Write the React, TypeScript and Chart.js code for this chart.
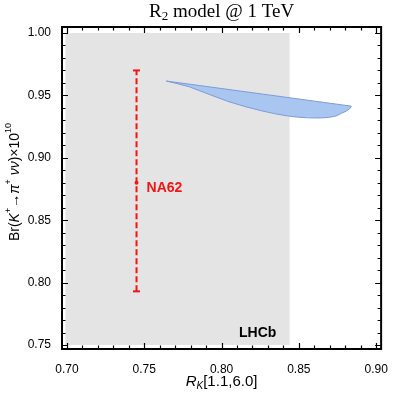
import React, { useEffect, useRef } from "react";
import { Chart, registerables } from "chart.js";

Chart.register(...registerables);

// ---- data ----
const titleText = "model @ 1 TeV";
const xTickValues = [0.7, 0.75, 0.8, 0.85, 0.9];
const yTickValues = [0.75, 0.8, 0.85, 0.9, 0.95, 1.0];
const xRange = [0.6968, 0.9032];
const yRange = [0.7468, 1.0048];

// LHCb band (R_K range, Br range)
const lhcbX = [0.699, 0.844];
const lhcbY = [0.75, 1.0];

// R2 model allowed region (closed outline)
const bandX = [0.7643, 0.7720, 0.7791, 0.7920, 0.8048, 0.8160, 0.826, 0.8350, 0.8434, 0.8500, 0.8563, 0.8630, 0.8691, 0.8740, 0.8775, 0.8808, 0.8833, 0.8839, 0.7643];
const bandY = [0.9615, 0.9592, 0.9569, 0.9508, 0.9449, 0.9408, 0.9376, 0.9352, 0.9334, 0.9325, 0.932, 0.9319, 0.9323, 0.9335, 0.9356, 0.9375, 0.9398, 0.9414, 0.9615];

// NA62 measurement
const na62X = 0.745;
const na62Central = 0.88;
const na62Low = 0.793;
const na62High = 0.97;

const RED = "rgb(238,22,22)";

const framePlugin = {
  id: "framePlugin",
  afterDraw(chart: any) {
    const { ctx, chartArea } = chart;
    const { left, right, top, bottom } = chartArea;
    const xs = chart.scales.x;
    const ys = chart.scales.y;
    ctx.save();
    // frame
    ctx.strokeStyle = "#000";
    ctx.lineWidth = 2;
    ctx.strokeRect(left, top, right - left, bottom - top);
    // ticks
    ctx.lineWidth = 1.2;
    ctx.beginPath();
    for (let i = 0; i <= 20; i++) {
      const v = 0.7 + i * 0.01;
      const major = i % 5 === 0;
      const len = major ? 6 : 3.5;
      const px = Math.round(xs.getPixelForValue(v)) + 0.5;
      ctx.moveTo(px, bottom);
      ctx.lineTo(px, bottom - len);
      ctx.moveTo(px, top);
      ctx.lineTo(px, top + len);
    }
    for (let i = 0; i <= 25; i++) {
      const v = 0.75 + i * 0.01;
      const major = i % 5 === 0;
      const len = major ? 6 : 3.5;
      const py = Math.round(ys.getPixelForValue(v)) + 0.5;
      ctx.moveTo(left, py);
      ctx.lineTo(left + len, py);
      ctx.moveTo(right, py);
      ctx.lineTo(right - len, py);
    }
    ctx.stroke();

    // labels
    ctx.fillStyle = RED;
    ctx.font = "bold 14px 'Liberation Sans', Arial, sans-serif";
    ctx.textBaseline = "middle";
    ctx.textAlign = "left";
    ctx.fillText("NA62", xs.getPixelForValue(na62X) + 10, ys.getPixelForValue(0.876));
    ctx.fillStyle = "#000";
    ctx.fillText("LHCb", xs.getPixelForValue(0.8113), ys.getPixelForValue(0.7595));

    // title
    const cx = (left + right) / 2;
    const big = "19px 'Liberation Serif', 'DejaVu Serif', serif";
    const small = "13px 'Liberation Serif', 'DejaVu Serif', serif";
    ctx.font = big;
    const wR = ctx.measureText("R").width;
    ctx.font = small;
    const w2 = ctx.measureText("2").width;
    ctx.font = big;
    const wT = ctx.measureText(" " + titleText).width;
    const total = wR + w2 + wT;
    let tx = cx - total / 2;
    const ty = 12;
    ctx.textBaseline = "middle";
    ctx.fillText("R", tx, ty);
    tx += wR;
    ctx.font = small;
    ctx.fillText("2", tx, ty + 5);
    tx += w2;
    ctx.font = big;
    ctx.fillText(" " + titleText, tx, ty);

    // x axis title: R_K[1.1,6.0]
    const segsX: [string, string, number][] = [
      ["R", "italic 15px 'Liberation Sans', Arial, sans-serif", 0],
      ["K", "italic 10px 'Liberation Sans', Arial, sans-serif", 4],
      ["[1.1,6.0]", "15px 'Liberation Sans', Arial, sans-serif", 0],
    ];
    drawSegs(ctx, segsX, cx, 382);

    // y axis title
    const segsY: [string, string, number][] = [
      ["Br(", "14px 'Liberation Sans', Arial, sans-serif", 0],
      ["K", "italic 14px 'Liberation Sans', Arial, sans-serif", 0],
      ["+", "9px 'Liberation Sans', Arial, sans-serif", -6],
      ["\u2192", "14px 'Liberation Sans', Arial, sans-serif", 0],
      ["\u03c0", "italic 14px 'Liberation Sans', Arial, sans-serif", 0],
      ["+", "9px 'Liberation Sans', Arial, sans-serif", -6],
      [" \u03bd\u03bd", "italic 14px 'Liberation Sans', Arial, sans-serif", 0],
      [")\u00d710", "14px 'Liberation Sans', Arial, sans-serif", 0],
      ["10", "9px 'Liberation Sans', Arial, sans-serif", -6],
    ];
    ctx.save();
    ctx.translate(15, (top + bottom) / 2 - 6);
    ctx.rotate(-Math.PI / 2);
    drawSegs(ctx, segsY, 0, 0);
    ctx.restore();

    ctx.restore();
  },
};

function drawSegs(ctx: any, segs: [string, string, number][], cx: number, cy: number) {
  let total = 0;
  for (const [t, f] of segs) {
    ctx.font = f;
    total += ctx.measureText(t).width;
  }
  let x = cx - total / 2;
  ctx.fillStyle = "#000";
  ctx.textAlign = "left";
  ctx.textBaseline = "middle";
  for (const [t, f, dy] of segs) {
    ctx.font = f;
    ctx.fillText(t, x, cy + dy);
    x += ctx.measureText(t).width;
  }
}

export default function App() {
  const ref = useRef<HTMLCanvasElement>(null);
  useEffect(() => {
    if (!ref.current) return;
    const tickFont = { family: "'Liberation Sans', Arial, sans-serif", size: 12 };
    const chart = new Chart(ref.current, {
      type: "line",
      data: {
        datasets: [
          {
            label: "LHCb",
            data: [
              { x: lhcbX[0], y: lhcbY[0] },
              { x: lhcbX[1], y: lhcbY[0] },
              { x: lhcbX[1], y: lhcbY[1] },
              { x: lhcbX[0], y: lhcbY[1] },
              { x: lhcbX[0], y: lhcbY[0] },
            ],
            borderWidth: 0,
            borderColor: "rgba(0,0,0,0)",
            backgroundColor: "#e4e4e4",
            fill: "shape",
            pointRadius: 0,
            order: 3,
            tension: 0,
          },
          {
            label: "R2",
            data: bandX.map((x, i) => ({ x, y: bandY[i] })),
            borderWidth: 1,
            borderColor: "rgb(125,155,215)",
            backgroundColor: "rgb(168,198,240)",
            fill: "shape",
            pointRadius: 0,
            order: 2,
            tension: 0,
          },
          {
            label: "NA62 bar",
            data: [
              { x: na62X, y: na62Low },
              { x: na62X, y: na62High },
            ],
            borderWidth: 2,
            borderColor: RED,
            borderDash: [6, 3],
            pointRadius: 0,
            fill: false,
            order: 1,
          },
          {
            label: "NA62 caps",
            data: [
              { x: na62X, y: na62Low },
              { x: na62X, y: na62High },
            ],
            showLine: false,
            pointStyle: "line",
            pointRadius: 3.5,
            pointBorderWidth: 2,
            pointBorderColor: RED,
            pointBackgroundColor: RED,
            fill: false,
            order: 0,
          },
          {
            label: "NA62 central",
            data: [{ x: na62X, y: na62Central }],
            showLine: false,
            pointStyle: "circle",
            pointRadius: 2,
            pointBorderWidth: 0,
            pointBackgroundColor: RED,
            fill: false,
            order: 0,
          },
        ],
      },
      options: {
        animation: false,
        responsive: true,
        maintainAspectRatio: false,
        layout: { padding: { left: 0, right: 10, top: 27, bottom: 0 } },
        plugins: {
          legend: { display: false },
          tooltip: { enabled: false },
          title: { display: false },
        },
        scales: {
          x: {
            type: "linear",
            min: xRange[0],
            max: xRange[1],
            grid: { display: false },
            border: { display: false },
            ticks: {
              font: tickFont,
              color: "#000",
              padding: 5,
              maxRotation: 0,
              callback: (v: any) => Number(v).toFixed(2),
            },
            afterBuildTicks: (s: any) => {
              s.ticks = xTickValues.map((v) => ({ value: v }));
            },
            afterFit: (s: any) => {
              s.height = 46;
            },
          },
          y: {
            type: "linear",
            min: yRange[0],
            max: yRange[1],
            grid: { display: false },
            border: { display: false },
            ticks: {
              font: tickFont,
              color: "#000",
              padding: 3,
              callback: (v: any) => Number(v).toFixed(2),
            },
            afterBuildTicks: (s: any) => {
              s.ticks = yTickValues.map((v) => ({ value: v }));
            },
            afterFit: (s: any) => {
              s.width = 62;
            },
          },
        },
      },
      plugins: [framePlugin],
    } as any);
    return () => chart.destroy();
  }, []);
  return (
    <div style={{ position: "fixed", left: 0, top: 0, width: 393, height: 395, background: "#fff" }}>
      <canvas ref={ref} />
    </div>
  );
}
